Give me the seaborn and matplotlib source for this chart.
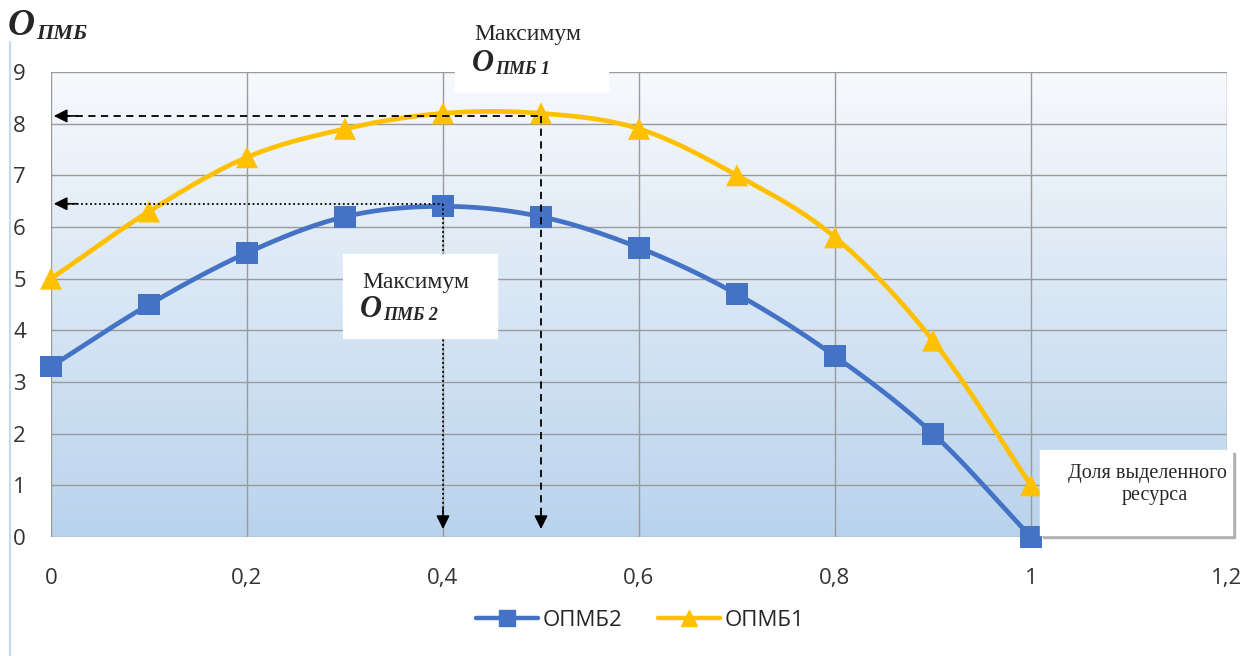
import numpy as np
import pandas as pd
import seaborn as sns
import matplotlib.pyplot as plt
from matplotlib.lines import Line2D
from matplotlib.patches import Rectangle
from matplotlib.colors import LinearSegmentedColormap

# values
x_vals = [0, 0.1, 0.2, 0.3, 0.4, 0.5, 0.6, 0.7, 0.8, 0.9, 1.0]
opmb2 = [3.3, 4.5, 5.5, 6.2, 6.4, 6.2, 5.6, 4.7, 3.5, 2.0, 0.0]
opmb1 = [5.0, 6.3, 7.35, 7.9, 8.2, 8.2, 7.9, 7.0, 5.8, 3.8, 1.0]
x_ticks = [0, 0.2, 0.4, 0.6, 0.8, 1.0, 1.2]
x_labels = ["0", "0,2", "0,4", "0,6", "0,8", "1", "1,2"]
y_ticks = list(range(10))
max1 = (0.5, 8.15)
max2 = (0.4, 6.45)

BLUE = "#4472C4"
YELLOW = "#FFC000"


def smooth(xs, ys, n=20):
    # catmull-rom path through the points, like Excel's smoothed line
    xs, ys = np.asarray(xs, float), np.asarray(ys, float)
    px = np.concatenate([[2 * xs[0] - xs[1]], xs, [2 * xs[-1] - xs[-2]]])
    py = np.concatenate([[2 * ys[0] - ys[1]], ys, [2 * ys[-1] - ys[-2]]])
    ox, oy = [], []
    t = np.linspace(0, 1, n, endpoint=False)
    for i in range(1, len(px) - 2):
        for p, o in ((px, ox), (py, oy)):
            p0, p1, p2, p3 = p[i - 1], p[i], p[i + 1], p[i + 2]
            o.extend(0.5 * (2 * p1 + (-p0 + p2) * t + (2 * p0 - 5 * p1 + 4 * p2 - p3) * t**2
                            + (-p0 + 3 * p1 - 3 * p2 + p3) * t**3))
    ox.append(xs[-1]); oy.append(ys[-1])
    return np.array(ox), np.array(oy)


sns.set_style("white")
plt.rcParams["font.family"] = ["Open Sans", "DejaVu Sans"]

W, H = 1242, 656
fig = plt.figure(figsize=(W / 100, H / 100), dpi=100)
fx = lambda p: p / W
fy = lambda p: 1 - p / H

ax = fig.add_axes([fx(51), fy(537), fx(1227) - fx(51), fy(72) - fy(537)])

# gradient background of the plot area
grad = np.linspace(0, 1, 256).reshape(-1, 1)
cmap = LinearSegmentedColormap.from_list("bg", ["#f7f9fc", "#b9d3ed"])
ax.imshow(grad, extent=[0, 1, 0, 1], transform=ax.transAxes, cmap=cmap,
          aspect="auto", zorder=0, origin="upper")

for ys, col in ((opmb2, BLUE), (opmb1, YELLOW)):
    sx, sy = smooth(x_vals, ys)
    df = pd.DataFrame({"x": sx, "y": sy})
    sns.lineplot(data=df, x="x", y="y", ax=ax, color=col, lw=3.4, sort=False,
                 estimator=None, zorder=3)

pts = pd.DataFrame({"x": x_vals * 2, "y": opmb2 + opmb1,
                    "s": ["ОПМБ2"] * len(x_vals) + ["ОПМБ1"] * len(x_vals)})
sns.scatterplot(data=pts, x="x", y="y", hue="s", style="s",
                palette={"ОПМБ2": BLUE, "ОПМБ1": YELLOW},
                markers={"ОПМБ2": "s", "ОПМБ1": "^"}, s=250, edgecolor="none",
                ax=ax, zorder=4, legend=False, clip_on=False)

ax.set_xlim(0, 1.2)
ax.set_ylim(0, 9)
ax.set_xticks(x_ticks)
ax.set_xticklabels(x_labels)
ax.set_yticks(y_ticks)
ax.set_xlabel("")
ax.set_ylabel("")
ax.grid(True, color="#9a9a9a", lw=1)
ax.set_axisbelow(False)
for s in ax.spines.values():
    s.set_visible(False)
ax.tick_params(axis="both", length=0, labelsize=16, colors="#333333")
ax.tick_params(axis="x", pad=22)
ax.tick_params(axis="y", pad=18)

# guide arrows to the maxima
for (mx, my), ls in ((max1, (0, (4, 3))), (max2, (0, (1, 1.5)))):
    ax.plot([0.012, mx], [my, my], color="black", lw=1.3, ls=ls, zorder=5)
    ax.plot([mx, mx], [my, 0.35], color="black", lw=1.3, ls=ls, zorder=5)
    ax.annotate("", xy=(0.0, my), xytext=(0.03, my),
                arrowprops=dict(arrowstyle="-|>", color="black", lw=1.2, mutation_scale=20),
                zorder=6)
    ax.annotate("", xy=(mx, 0.1), xytext=(mx, 0.6),
                arrowprops=dict(arrowstyle="-|>", color="black", lw=1.2, mutation_scale=20),
                zorder=6)

# text boxes
serif = ["Liberation Serif", "DejaVu Serif"]


def box(x0, y0, x1, y1, shadow=False):
    if shadow:
        fig.patches.append(Rectangle((fx(x0 + 3), fy(y1 + 3)), fx(x1 - x0), fy(y0) - fy(y1),
                                     transform=fig.transFigure, color="#b0b0b0", zorder=8))
    fig.patches.append(Rectangle((fx(x0), fy(y1)), fx(x1 - x0), fy(y0) - fy(y1),
                                 transform=fig.transFigure, color="white", zorder=9))


def omb(xp, yp, sub, big=22, small=13, drop=3):
    t = fig.text(fx(xp), fy(yp), "O", family=serif, weight="bold", style="italic",
                 fontsize=big, va="baseline", zorder=10)
    fig.canvas.draw()
    bb = t.get_window_extent()
    fig.text(bb.x1 / W + 0.001, fy(yp + drop), sub, family=serif, weight="bold",
             style="italic", fontsize=small, va="baseline", zorder=10)


box(455, 48, 608, 92)
fig.text(fx(474), fy(40), "Максимум", family=serif, fontsize=17, va="baseline", zorder=10)
omb(472, 71, "ПМБ 1")

box(343, 254, 497, 338)
fig.text(fx(362), fy(288), "Максимум", family=serif, fontsize=17, va="baseline", zorder=10)
omb(360, 317, "ПМБ 2")

box(1040, 450, 1232, 535, shadow=True)
fig.text(fx(1147), fy(478), "Доля выделенного", family=serif, fontsize=14.5,
         ha="center", va="baseline", zorder=10)
fig.text(fx(1155), fy(500), "ресурса", family=serif, fontsize=14.5,
         ha="center", va="baseline", zorder=10)

# axis title top-left
omb(8, 35, "ПМБ", big=27, small=16, drop=4)

# chart border on the left
fig.add_artist(Line2D([fx(10), fx(10)], [fy(42), 0], color="#c5d9ee", lw=1.5,
                      transform=fig.transFigure))

handles = [Line2D([], [], color=BLUE, lw=3.2, marker="s", markersize=12),
           Line2D([], [], color=YELLOW, lw=3.2, marker="^", markersize=12)]
fig.legend(handles, ["ОПМБ2", "ОПМБ1"], loc="center", bbox_to_anchor=(fx(640), fy(620)),
           ncol=2, frameon=False, fontsize=16, handlelength=2.8, columnspacing=1.6,
           handletextpad=0.2)

fig.savefig("out.png", dpi=100)
